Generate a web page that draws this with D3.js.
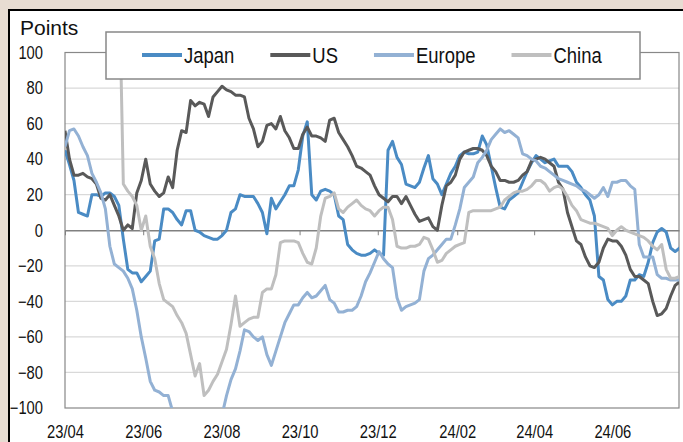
<!DOCTYPE html>
<html>
<head>
<meta charset="utf-8">
<script src="https://cdn.jsdelivr.net/npm/d3@7"></script>
<style>
  body, html { margin: 0; padding: 0; background: #e7dcd2; overflow: hidden; }
  svg { display: block; }
  text { font-family: "Liberation Sans", Arial, sans-serif; fill: #111; }
</style>
</head>
<body>
<svg id="chart" width="683" height="442"></svg>
<script>
  // twice-weekly readings (every 3.5 days) starting 2023-04-01
  const startDate = "2023-04-01";
  const stepHours = 84;
  const seriesNames = ["Japan", "US", "Europe", "China"];
  const seriesColors = ["#4a8bc4", "#595959", "#93b1d4", "#bfbfbf"];

  const japan = [45, 37, 28, 10, 9, 8, 20, 20, 19, 21,
    21, 19, 14, -5, -22, -24, -24, -29, -26, -23,
    -6, -5, 12, 12, 10, 6, 3, 11, 11, 0,
    -1, -3, -4, -5, -5, -3, 0, 10, 12, 20,
    19, 19, 19, 15, 10, -2, 18, 12, 16, 20,
    25, 25, 34, 53, 61, 20, 17, 22, 23, 22,
    20, 8, 6, -8, -11, -13, -14, -14, -13, -11,
    -13, -14, 45, 50, 41, 37, 26, 25, 24, 27,
    35, 42, 29, 26, 20, 26, 32, 36, 42, 44,
    43, 43, 44, 53, 48, 36, 24, 13, 12, 17,
    19, 21, 27, 33, 38, 42, 40, 38, 39, 40,
    36, 36, 36, 33, 27, 24, 20, 17, 8, -26,
    -28, -39, -42, -40, -40, -37, -28, -28, -25, -26,
    -18, -7, -1, 1, -1, -10, -12, -10, -11];

  const us = [56, 40, 31, 31, 32, 30, 29, 26, 18, 17,
    20, 14, 8, 0, 3, 1, 21, 28, 40, 26,
    22, 19, 21, 30, 24, 45, 56, 55, 73, 70,
    72, 71, 64, 75, 78, 81, 79, 78, 76, 76,
    75, 63, 57, 47, 50, 59, 60, 57, 64, 56,
    52, 46, 46, 54, 58, 53, 53, 52, 50, 62,
    63, 55, 51, 47, 42, 36, 35, 33, 31, 25,
    20, 18, 16, 19, 19, 15, 19, 14, 9, 5,
    6, 7, 2, 0, 14, 25, 27, 31, 40, 44,
    45, 46, 46, 45, 42, 36, 33, 28, 28, 27,
    27, 28, 31, 33, 39, 40, 41, 40, 38, 36,
    27, 23, 10, 2, -6, -8, -15, -20, -21, -18,
    -10, -5, -6, -6, -9, -14, -22, -26, -26, -28,
    -30, -40, -48, -47, -44, -37, -31, -29, -28];

  const europe = [47, 56, 57, 53, 47, 42, 32, 27, 21, 12,
    -9, -19, -21, -23, -27, -33, -45, -60, -72, -85,
    -90, -91, -93, -93, -102, -110, -110, -110, -110, -110,
    -110, -110, -110, -110, -110, -104, -93, -84, -78, -68,
    -56, -57, -60, -62, -60, -70, -76, -68, -60, -52,
    -47, -42, -42, -38, -35, -38, -37, -34, -31, -39,
    -41, -46, -46, -45, -45, -43, -37, -29, -24, -18,
    -12, -16, -19, -21, -38, -45, -43, -42, -41, -39,
    -23, -16, -14, -11, -8, -5, -5, 3, 12, 24,
    27, 30, 38, 41, 45, 51, 54, 57, 55, 56,
    54, 52, 43, 42, 40, 39, 36, 35, 33, 31,
    29, 28, 27, 26, 25, 23, 22, 20, 18, 20,
    24, 19, 27, 27, 28, 28, 25, 23, -8, -15,
    -15, -15, -25, -27, -27, -28, -28, -28, -28];

  const china = [150, 150, 150, 150, 150, 150, 150, 150, 150, 150,
    150, 150, 150, 26, 22, 19, 14, 0, 8, -9,
    -16, -30, -39, -41, -43, -48, -52, -58, -70, -82,
    -75, -93, -90, -85, -81, -74, -67, -53, -37, -54,
    -52, -50, -49, -49, -35, -33, -33, -25, -7, -6,
    -6, -6, -7, -13, -18, -19, -10, 8, 18, 19,
    21, 12, 10, 13, 15, 17, 14, 12, 11, 8,
    11, 13, 13, 6, -9, -10, -10, -9, -9, -8,
    -4, -5, -11, -18, -17, -13, -11, -9, -8, -7,
    10, 11, 11, 11, 11, 11, 12, 13, 17, 19,
    21, 22, 22, 23, 25, 28, 28, 26, 22, 24,
    25, 23, 19, 14, 11, 6, 5, 4, 4, 3,
    2, 1, -3, 0, 2, 0, -1, -2, -3, -4,
    -6, -9, -11, -8, -22, -27, -27, -26, -27];

  const yTicks = [100, 80, 60, 40, 20, 0, -20, -40, -60, -80, -100];
  const xTickLabels = ["23/04", "23/06", "23/08", "23/10", "23/12", "24/02", "24/04", "24/06"];

  const parse = d3.timeParse("%Y-%m-%d");
  const parseTick = d3.timeParse("%y/%m");
  const start = parse(startDate);
  const dates = japan.map((d, i) => d3.timeHour.offset(start, i * stepHours));
  const allSeries = [japan, us, europe, china];

  const svg = d3.select("#chart");

  // white panel with black frame
  svg.append("rect")
    .attr("x", 9).attr("y", 10)
    .attr("width", 700).attr("height", 500)
    .attr("fill", "white")
    .attr("stroke", "black")
    .attr("stroke-width", 2);

  const pLeft = 65, pRight = 679, pTop = 52.5, pBottom = 408;
  const narrow = "scale(0.82,1)";

  const x = d3.scaleTime()
    .domain([parse("2023-04-01"), parse("2024-07-23")])
    .range([pLeft, pRight]);
  const y = d3.scaleLinear().domain([-100, 100]).range([pBottom, pTop]);

  // gridlines
  svg.append("g")
    .selectAll("line")
    .data(yTicks.filter(d => d !== 0 && d !== -100))
    .join("line")
    .attr("x1", pLeft).attr("x2", pRight)
    .attr("y1", d => y(d)).attr("y2", d => y(d))
    .attr("stroke", "#d9d9d9")
    .attr("stroke-width", 1.2);

  // plot border
  svg.append("rect")
    .attr("x", pLeft).attr("y", pTop)
    .attr("width", pRight - pLeft).attr("height", pBottom - pTop)
    .attr("fill", "none")
    .attr("stroke", "#888888")
    .attr("stroke-width", 1.2);

  // zero axis with tick marks, labels at the bottom
  const xAxis = svg.append("g")
    .attr("transform", `translate(0,${y(0)})`)
    .call(d3.axisBottom(x)
      .tickValues(xTickLabels.map(parseTick))
      .tickFormat(d3.timeFormat("%y/%m"))
      .tickSize(5)
      .tickSizeOuter(0));
  xAxis.select(".domain").attr("stroke", "#808080").attr("stroke-width", 1.5);
  xAxis.selectAll(".tick line").attr("stroke", "#808080");
  xAxis.selectAll(".tick text")
    .attr("y", 438 - y(0))
    .attr("dy", 0)
    .attr("transform", narrow)
    .style("font-family", "Liberation Sans, Arial, sans-serif")
    .style("font-size", "18px")
    .style("fill", "#111");

  // y labels
  const yAxis = svg.append("g")
    .attr("transform", `translate(43,0)`)
    .call(d3.axisLeft(y).tickValues(yTicks).tickSize(0).tickPadding(0));
  yAxis.select(".domain").remove();
  yAxis.selectAll(".tick text")
    .attr("transform", narrow)
    .style("font-family", "Liberation Sans, Arial, sans-serif")
    .style("font-size", "18px")
    .style("fill", "#111");

  svg.append("text")
    .attr("x", 20).attr("y", 35)
    .attr("font-size", 21)
    .text("Points");

  // lines
  svg.append("clipPath").attr("id", "plotClip")
    .append("rect")
    .attr("x", pLeft).attr("y", pTop)
    .attr("width", pRight - pLeft).attr("height", pBottom - pTop);

  const line = d3.line()
    .x((d, i) => x(dates[i]))
    .y(d => y(d));

  svg.append("g")
    .attr("clip-path", "url(#plotClip)")
    .selectAll("path")
    .data(allSeries)
    .join("path")
    .attr("d", d => line(d))
    .attr("fill", "none")
    .attr("stroke", (d, i) => seriesColors[i])
    .attr("stroke-width", 3)
    .attr("stroke-linejoin", "round");

  // legend
  const legend = svg.append("g");
  legend.append("rect")
    .attr("x", 106).attr("y", 32)
    .attr("width", 534).attr("height", 47)
    .attr("fill", "white")
    .attr("stroke", "#888888")
    .attr("stroke-width", 1.5);

  let lx = 142;
  seriesNames.forEach((name, i) => {
    legend.append("line")
      .attr("x1", lx).attr("x2", lx + 40)
      .attr("y1", 55).attr("y2", 55)
      .attr("stroke", seriesColors[i])
      .attr("stroke-width", 4);
    const t = legend.append("g")
      .attr("transform", `translate(${lx + 42},62.5) scale(0.84,1)`)
      .append("text")
      .attr("font-size", 22)
      .text(name);
    lx += 42 + t.node().getComputedTextLength() * 0.84 + 36;
  });
</script>
</body>
</html>
